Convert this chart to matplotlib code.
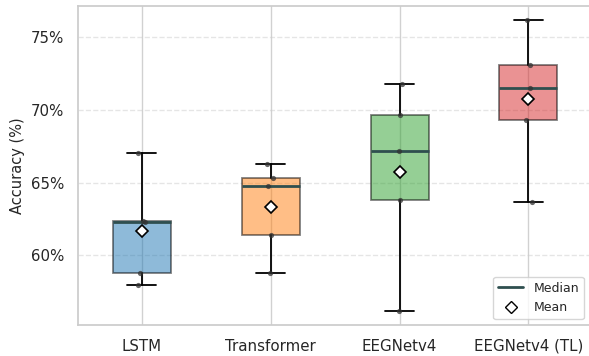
import matplotlib
matplotlib.use("Agg")
import matplotlib.pyplot as plt
from matplotlib.lines import Line2D
from matplotlib.ticker import FuncFormatter
import numpy as np
import seaborn as sns

# Acurácias por modelo (%)
models = ["LSTM", "Transformer", "EEGNetv4", "EEGNetv4 (TL)"]
acc_lstm = [58.0, 58.8, 62.3, 62.35, 67.05]
acc_transformer = [58.83, 61.42, 64.81, 65.32, 66.28]
acc_eegnet = [56.2, 63.8, 67.2, 69.68, 71.81]
acc_eegnet_tl = [63.71, 69.3, 71.53, 73.12, 76.17]
colors = ["#1f77b4", "#ff7f0e", "#2ca02c", "#d62728"]

data = [acc_lstm, acc_transformer, acc_eegnet, acc_eegnet_tl]

sns.set_theme(style="whitegrid")
plt.rcParams['font.family'] = ['DejaVu Sans']

fig = plt.figure(figsize=(5.89, 3.56), dpi=100)
ax = fig.add_axes([0.1317, 0.0862, 0.8747, 0.8978])

positions = np.arange(len(models))
bp = ax.boxplot(data, positions=positions, widths=0.45, patch_artist=True,
                showfliers=False,
                medianprops=dict(color="#2f4f4f", linewidth=2),
                whiskerprops=dict(color="black", linewidth=1.3),
                capprops=dict(color="black", linewidth=1.3),
                boxprops=dict(edgecolor="black", linewidth=1.3))
for patch, c in zip(bp["boxes"], colors):
    patch.set_facecolor(c)
    patch.set_alpha(0.5)

# pontos individuais (jitter leve)
rng = np.random.default_rng(3)
for i, vals in enumerate(data):
    xs = i + rng.uniform(-0.035, 0.035, len(vals))
    ax.scatter(xs, vals, s=14, color="#333333", alpha=0.75, zorder=3, linewidths=0)
    ax.plot(i, np.mean(vals), marker="D", markersize=6, markerfacecolor="white",
            markeredgecolor="black", markeredgewidth=1.2, zorder=4)

allv = np.concatenate(data)
ax.set_xlim(-0.5, len(models) - 0.5)
ax.set_ylim(allv.min() - 1, allv.max() + 1)
ax.set_xticks(positions)
ax.set_xticklabels(models, fontsize=10.8)
ax.set_yticks([60, 65, 70, 75])
ax.yaxis.set_major_formatter(FuncFormatter(lambda v, _: f"{v:.0f}%"))
ax.tick_params(axis="y", labelsize=10.8)
ax.set_ylabel("Accuracy (%)", fontsize=10.5)
ax.spines["right"].set_visible(False)

ax.grid(axis="y", linestyle="--", alpha=0.5)
ax.grid(axis="x", linestyle="-", alpha=0.9)

handles = [Line2D([0], [0], color="#2f4f4f", linewidth=2, label="Median"),
           Line2D([0], [0], marker="D", linestyle="none", markersize=6,
                  markerfacecolor="white", markeredgecolor="black", label="Mean")]
ax.legend(handles=handles, loc="lower right", fontsize=9, frameon=True,
          bbox_to_anchor=(0.995, 0.0))

fig.savefig("out.png", dpi=100)
